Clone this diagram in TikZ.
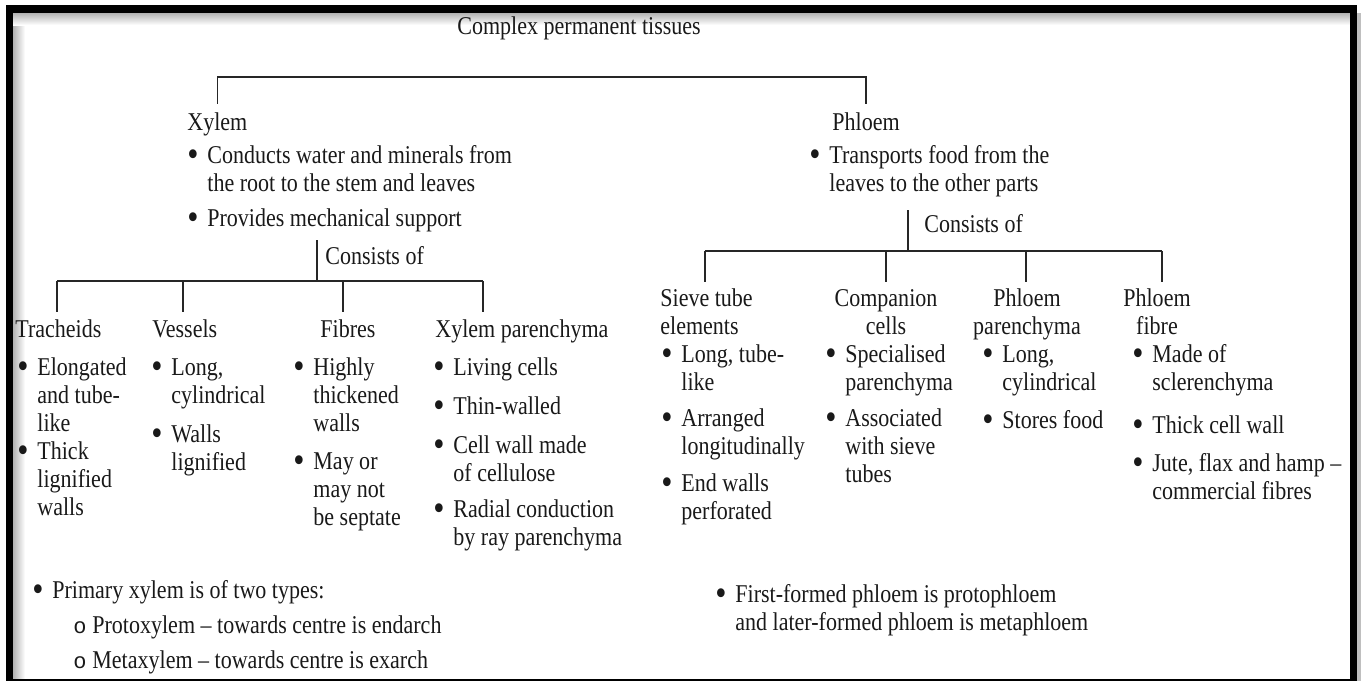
\documentclass[tikz,border=0pt]{standalone}
\usepackage{fontspec}
\setmainfont[FakeStretch=0.86]{Liberation Serif}
\newfontfamily\bulfont{Liberation Mono}
\usepackage{tikz}

\newcommand{\bdot}{\raisebox{-0.12em}{\scalebox{1.45}{\textbullet}}}
\newcommand{\bitem}[1]{\makebox[8.5pt][l]{\hspace*{-1.5pt}\bdot}\begin{tabular}[t]{@{}l@{}}#1\end{tabular}}
\newcommand{\oitem}[1]{\makebox[8.5pt][l]{\hspace*{-1pt}\bulfont\fontsize{11}{14}\selectfont o}#1}
\newcommand{\hstack}[2]{\begin{tabular}[t]{@{}#1@{}}#2\end{tabular}}

\begin{document}
\begin{tikzpicture}
    [
        x=0.5pt, y=-0.5pt,
        every node/.style={inner sep=0pt, font=\fontsize{12.8}{14}\selectfont, text=black!90},
        txt/.style={anchor=base west},
        head/.style={anchor=base},
        tline/.style={line width=0.8pt, black!85}
    ]
    \useasboundingbox (0,0) rectangle (1364,681);

    \shade[left color=gray!60, right color=white] (13,13) rectangle (25,679);
    \shade[top color=gray!60, bottom color=white] (13,13) rectangle (1350,25);
    \fill[gray!50] (1357,13) rectangle (1361,681);
    \fill[black] (6,5) rectangle (13,681);
    \fill[black] (6,5) rectangle (1357,13);
    \fill[black] (1350,5) rectangle (1357,681);
    \fill[black] (6,679) rectangle (1357,681);

    \node[txt] (cpt) at (457,34) {Complex permanent tissues};

    \node[txt] (xyl) at (187,130) {Xylem};
    \node[txt] (xb1) at (190,163) {\bitem{Conducts water and minerals from\\the root to the stem and leaves}};
    \node[txt] (xb2) at (190,226) {\bitem{Provides mechanical support}};
    \node[txt] (phl) at (832,130) {Phloem};
    \node[txt] (pb1) at (812,163) {\bitem{Transports food from the\\leaves to the other parts}};

    \node[txt] (xcons) at (325,264) {Consists of};
    \node[txt] (pcons) at (924,232) {Consists of};

    \node[txt] (trh) at (15,337) {Tracheids};
    \node[txt] (ves) at (152,337) {Vessels};
    \node[txt] (fib) at (320,337) {Fibres};
    \node[txt] (xpar) at (435,337) {Xylem parenchyma};
    \node[txt] (ste) at (660,306) {\hstack{l}{Sieve tube\\elements}};
    \node[head] (com) at (886,306) {\hstack{c}{Companion\\cells}};
    \node[head] (ppar) at (1027,306) {\hstack{c}{Phloem\\parenchyma}};
    \node[head] (pfib) at (1157,306) {\hstack{c}{Phloem\\fibre}};

    \node[txt] (tr1) at (20,375) {\bitem{Elongated\\and tube-\\like}};
    \node[txt] (tr2) at (20,459) {\bitem{Thick\\lignified\\walls}};
    \node[txt] (ve1) at (154,375) {\bitem{Long,\\cylindrical}};
    \node[txt] (ve2) at (154,442) {\bitem{Walls\\lignified}};
    \node[txt] (fi1) at (296,375) {\bitem{Highly\\thickened\\walls}};
    \node[txt] (fi2) at (296,469) {\bitem{May or\\may not\\be septate}};
    \node[txt] (xp1) at (436,375) {\bitem{Living cells}};
    \node[txt] (xp2) at (436,414) {\bitem{Thin-walled}};
    \node[txt] (xp3) at (436,453) {\bitem{Cell wall made\\of cellulose}};
    \node[txt] (xp4) at (436,517) {\bitem{Radial conduction\\by ray parenchyma}};

    \node[txt] (st1) at (664,362) {\bitem{Long, tube-\\like}};
    \node[txt] (st2) at (664,426) {\bitem{Arranged\\longitudinally}};
    \node[txt] (st3) at (664,491) {\bitem{End walls\\perforated}};
    \node[txt] (co1) at (828,362) {\bitem{Specialised\\parenchyma}};
    \node[txt] (co2) at (828,426) {\bitem{Associated\\with sieve\\tubes}};
    \node[txt] (pp1) at (985,362) {\bitem{Long,\\cylindrical}};
    \node[txt] (pp2) at (985,428) {\bitem{Stores food}};
    \node[txt] (pf1) at (1135,362) {\bitem{Made of\\sclerenchyma}};
    \node[txt] (pf2) at (1135,433) {\bitem{Thick cell wall}};
    \node[txt] (pf3) at (1135,471) {\bitem{Jute, flax and hamp --\\commercial fibres}};

    \node[txt] (prim) at (35,598) {\bitem{Primary xylem is of two types:}};
    \node[txt] (proto) at (75,633) {\oitem{Protoxylem -- towards centre is endarch}};
    \node[txt] (meta) at (75,668) {\oitem{Metaxylem -- towards centre is exarch}};
    \node[txt] (ffp) at (718,602) {\bitem{First-formed phloem is protophloem\\and later-formed phloem is metaphloem}};

    \coordinate (tj) at (578,77);
    \coordinate (xtop) at (317,240);
    \coordinate (xj) at (317,281);
    \coordinate (ptop) at (908,210);
    \coordinate (pj) at (908,251);
    \coordinate (xs1) at (57,312);
    \coordinate (xs2) at (183,312);
    \coordinate (xs3) at (343,312);
    \coordinate (xs4) at (483,312);
    \coordinate (ps1) at (705,282);
    \coordinate (ps2) at (886,282);
    \coordinate (ps3) at (1026,282);
    \coordinate (ps4) at (1162,282);

    \draw[tline] ([yshift=4pt]xyl.north) |- (tj) -| ([yshift=4pt]phl.north);

    \draw[tline] (xtop) -- (xj);
    \draw[tline] (xs1 |- xj) -- (xs4 |- xj);
    \foreach \s in {xs1,xs2,xs3,xs4}
        \draw[tline] (\s |- xj) -- (\s);

    \draw[tline] (ptop) -- (pj);
    \draw[tline] (ps1 |- pj) -- (ps4 |- pj);
    \foreach \s in {ps1,ps2,ps3,ps4}
        \draw[tline] (\s |- pj) -- (\s);
\end{tikzpicture}
\end{document}
